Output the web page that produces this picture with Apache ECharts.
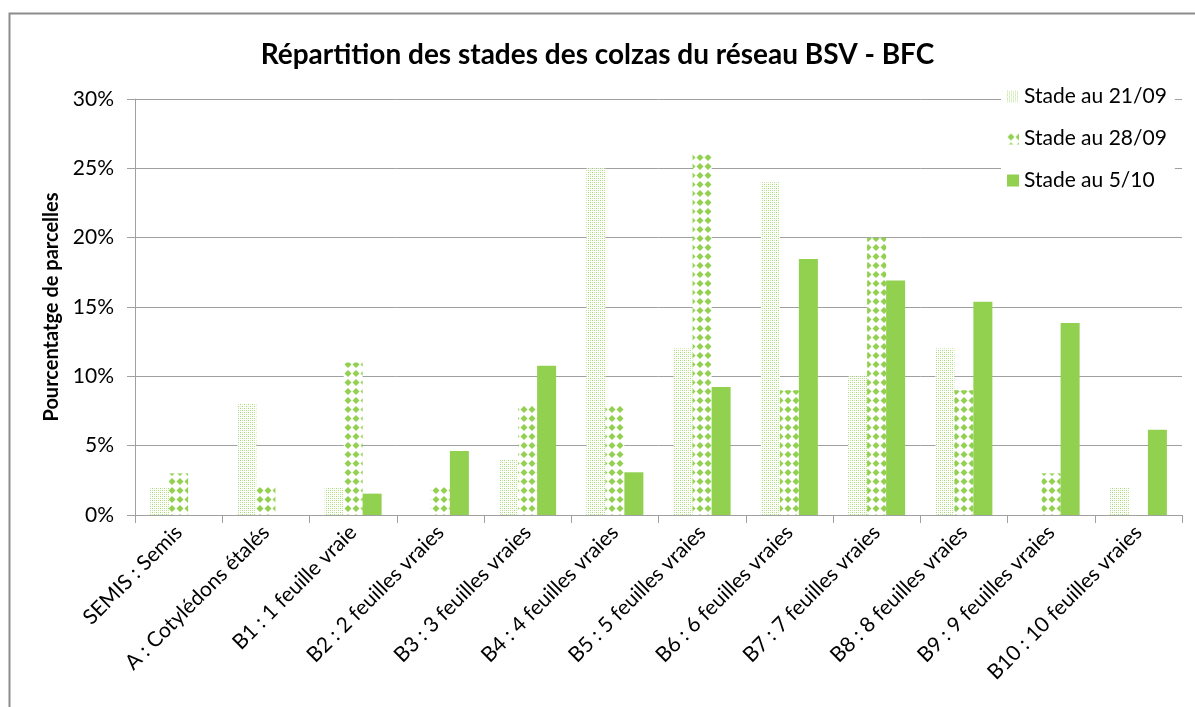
<!DOCTYPE html>
<html lang="fr">
<head>
    <meta charset="UTF-8">
    <title>Stades colzas</title>
    <style>
        *{
            padding:0;
            margin:0;
        }
        body{background:#fff;}
    </style>
    <script src="https://cdn.jsdelivr.net/npm/echarts@6/dist/echarts.min.js"></script>
</head>
<body>
    <div id="main" style="width: 1195px;height: 707px;"></div>
    <script>
        // stades
        var categories = ['SEMIS : Semis', 'A : Cotylédons étalés', 'B1 : 1 feuille vraie', 'B2 : 2 feuilles vraies',
            'B3 : 3 feuilles vraies', 'B4 : 4 feuilles vraies', 'B5 : 5 feuilles vraies', 'B6 : 6 feuilles vraies',
            'B7 : 7 feuilles vraies', 'B8 : 8 feuilles vraies', 'B9 : 9 feuilles vraies', 'B10 : 10 feuilles vraies'];
        var seriesNames = ['Stade au 21/09', 'Stade au 28/09', 'Stade au 5/10'];
        // % de parcelles
        var stade2109 = [2, 8, 2, 0, 4, 25, 12, 24, 10, 12, 0, 2];
        var stade2809 = [3, 2, 11, 2, 8, 8, 26, 9, 20, 9, 3, 0];
        var stade0510 = [0, 0, 1.54, 4.62, 10.77, 3.08, 9.23, 18.46, 16.92, 15.38, 13.85, 6.15];
        var yTicks = [0, 5, 10, 15, 20, 25, 30];

        var green = '#92D050';
        var font = 'Lato, "Open Sans", sans-serif';

        // motif pointillé
        var dots = document.createElement('canvas');
        dots.width = 4; dots.height = 4;
        var c1 = dots.getContext('2d');
        c1.fillStyle = '#fff';
        c1.fillRect(0, 0, 4, 4);
        c1.fillStyle = '#a6d96f';
        c1.fillRect(0, 0, 1, 1);
        c1.fillRect(2, 2, 1, 1);
        c1.fillStyle = '#c9e9a8';
        c1.fillRect(2, 0, 1, 1);
        c1.fillRect(0, 2, 1, 1);

        // motif losanges
        var diam = document.createElement('canvas');
        diam.width = 8; diam.height = 9;
        var c2 = diam.getContext('2d');
        c2.fillStyle = '#fff';
        c2.fillRect(0, 0, 8, 9);
        c2.fillStyle = green;
        c2.beginPath();
        c2.moveTo(4, 1);
        c2.lineTo(7.5, 4.5);
        c2.lineTo(4, 8);
        c2.lineTo(0.5, 4.5);
        c2.closePath();
        c2.fill();

        var fills = [
            {image: dots, repeat: 'repeat'},
            {image: diam, repeat: 'repeat'},
            green
        ];
        var values = [stade2109, stade2809, stade0510];

        var myChart = echarts.init(document.getElementById('main'));
        var option = {
            backgroundColor: '#fff',
            animation: false,
            title: {
                text: 'Répartition des stades des colzas du réseau BSV - BFC',
                left: 'center',
                top: 36,
                textStyle: {
                    fontFamily: font,
                    fontSize: 28,
                    fontWeight: 'bold',
                    color: '#000'
                }
            },
            graphic: [{
                type: 'rect',
                shape: {x: 9.5, y: 13.5, width: 1250, height: 760},
                style: {fill: 'none', stroke: '#8c8c8c', lineWidth: 2},
                silent: true
            }],
            legend: {
                orient: 'vertical',
                left: 1001,
                top: 80,
                itemWidth: 12,
                itemHeight: 12,
                itemGap: 21,
                backgroundColor: '#fff',
                padding: [6, 8, 6, 6],
                data: seriesNames.map(function (n) { return {name: n, icon: 'rect'}; }),
                textStyle: {
                    fontFamily: font,
                    fontSize: 21,
                    color: '#000'
                }
            },
            grid: {
                left: 135,
                right: 13,
                top: 99,
                bottom: 192
            },
            xAxis: {
                type: 'category',
                data: categories,
                axisLine: {lineStyle: {color: '#a0a0a0', width: 1}},
                axisTick: {show: true, length: 8, lineStyle: {color: '#a0a0a0'}},
                axisLabel: {
                    interval: 0,
                    rotate: 45,
                    margin: 14,
                    fontFamily: font,
                    fontSize: 21,
                    color: '#000'
                }
            },
            yAxis: {
                type: 'value',
                min: yTicks[0],
                max: yTicks[yTicks.length - 1],
                interval: 5,
                name: 'Pourcentatge de parcelles',
                nameLocation: 'middle',
                nameGap: 71,
                nameTextStyle: {
                    fontFamily: font,
                    fontSize: 20,
                    fontWeight: 'bold',
                    color: '#000'
                },
                axisLine: {show: true, lineStyle: {color: '#a0a0a0', width: 1}},
                axisTick: {show: true, length: 8, lineStyle: {color: '#a0a0a0'}},
                splitLine: {lineStyle: {color: '#a0a0a0', width: 1}},
                axisLabel: {
                    formatter: '{value}%',
                    margin: 21,
                    fontFamily: font,
                    fontSize: 21,
                    color: '#000'
                }
            },
            series: seriesNames.map(function (n, i) {
                return {
                    name: n,
                    type: 'bar',
                    data: values[i],
                    barWidth: 19,
                    barGap: '0%',
                    itemStyle: {color: fills[i]}
                };
            })
        };
        myChart.setOption(option);
    </script>
</body>
</html>
